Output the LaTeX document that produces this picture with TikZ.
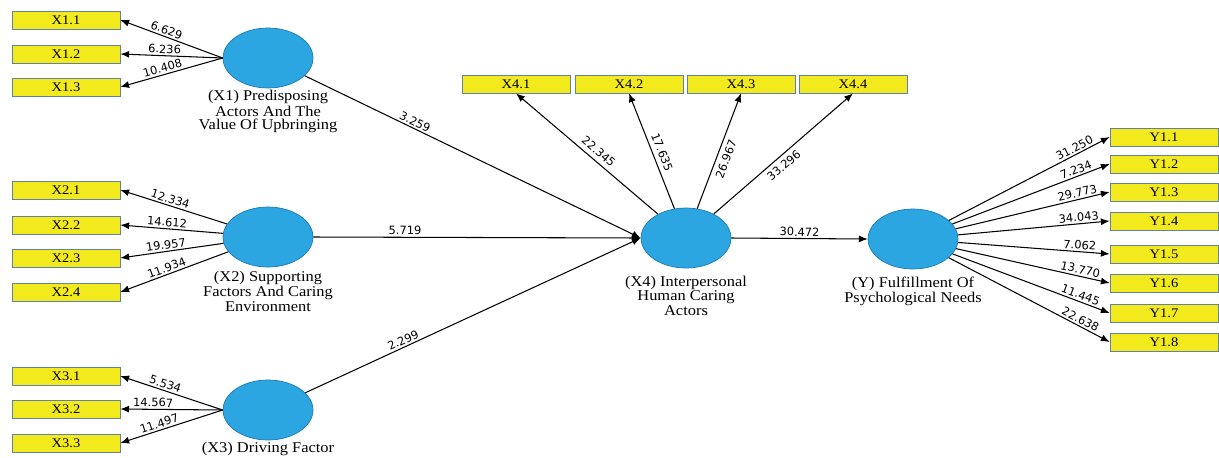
\documentclass[tikz,border=0pt]{standalone}
\usepackage{fontspec}
\setmainfont{Liberation Serif}
\newfontfamily\breitfont[FakeStretch=1.1]{Liberation Serif}
\newfontfamily\zahlfont{DejaVu Sans}
\usepackage{tikz}
\usetikzlibrary{shapes.geometric,arrows.meta}

\definecolor{kastengelb}{RGB}{242,234,28}
\definecolor{kastenrand}{RGB}{95,130,165}
\definecolor{kreisblau}{RGB}{43,166,224}
\definecolor{kreisrand}{RGB}{30,120,185}

\tikzset{
  indikator/.style={draw=kastenrand, fill=kastengelb, minimum width=2.16cm,
    minimum height=0.36cm, inner sep=0pt, font=\breitfont\fontsize{7.5}{8}\selectfont},
  latent/.style={ellipse, draw=kreisrand, fill=kreisblau, minimum width=1.8cm,
    minimum height=1.2cm},
  beschriftung/.style={align=center, font=\breitfont\fontsize{8.5}{7.4}\selectfont, inner sep=1pt},
  pfeil/.style={-{Latex[length=5pt,width=4pt]}, semithick},
  wert/.style={font=\zahlfont\fontsize{6.5}{7}\selectfont, inner sep=1pt, sloped}
}

\begin{document}
\begin{tikzpicture}[x=0.02cm, y=-0.02cm]
    \useasboundingbox (0,0) rectangle (1219,457);

    % Latente Variablen
    \node[latent, label={[beschriftung]below:{(X1) Predisposing\\Actors And The\\Value Of Upbringing}}] (X1) at (268,58) {};
    \node[latent, label={[beschriftung, label distance=1pt]below:{(X2) Supporting\\Factors And Caring\\Environment}}] (X2) at (268,237) {};
    \node[latent, label={[beschriftung]below:{(X3) Driving Factor}}] (X3) at (268,410) {};
    \node[latent, label={[beschriftung, label distance=3pt]below:{(X4) Interpersonal\\Human Caring\\Actors}}] (X4) at (686,238) {};
    \node[latent, label={[beschriftung, label distance=3pt]below:{(Y) Fulfillment Of\\Psychological Needs}}] (Y) at (913,239) {};

    % Indikatoren
    \foreach \i/\y in {1/20,2/54,3/87}
        \node[indikator] (X1\i) at (66,\y) {X1.\i};
    \foreach \i/\y in {1/190,2/225,3/258,4/292}
        \node[indikator] (X2\i) at (66,\y) {X2.\i};
    \foreach \i/\y in {1/376,2/409,3/443}
        \node[indikator] (X3\i) at (66,\y) {X3.\i};
    \foreach \i/\x in {1/516,2/629,3/741,4/853}
        \node[indikator] (X4\i) at (\x,84) {X4.\i};
    \foreach \i/\y in {1/137,2/164,3/192,4/221,5/254,6/283,7/313,8/342}
        \node[indikator] (Y1\i) at (1164,\y) {Y1.\i};

    % Ladungen
    \foreach \i/\w in {1/6.629,2/6.236,3/10.408}
        \draw[pfeil] (X1.west) -- node[wert, pos=0.57, above] {\w} (X1\i.east);
    \foreach \i/\w in {1/12.334,2/14.612,3/19.957,4/11.934}
        \draw[pfeil] (X2) -- node[wert, pos=0.55, above] {\w} (X2\i.east);
    \foreach \i/\w/\p in {1/5.534/0.58,2/14.567/0.68,3/11.497/0.6}
        \draw[pfeil] (X3.west) -- node[wert, pos=\p, above] {\w} (X3\i.east);
    \foreach \i/\w/\ank in {1/22.345/south,2/17.635/south,3/26.967/north,4/33.296/north}
        \draw[pfeil] (X4) -- node[wert, inner sep=2.5pt, pos=0.46, anchor=\ank] {\w} (X4\i.south);
    \foreach \i/\w in {1/31.250,2/7.234,3/29.773,4/34.043,5/7.062,6/13.770,7/11.445,8/22.638}
        \draw[pfeil] (Y) -- node[wert, pos=0.8, above] {\w} (Y1\i.west);

    % Pfadkoeffizienten
    \draw[pfeil] (X1) -- node[wert, pos=0.32, above] {3.259} (X4.west);
    \draw[pfeil] (X2.east) -- node[wert, pos=0.28, above] {5.719} (X4.west);
    \draw[pfeil] (X3) -- node[wert, pos=0.3, above] {2.299} (X4.west);
    \draw[pfeil] (X4.east) -- node[wert, pos=0.5, above] {30.472} (Y.west);
\end{tikzpicture}
\end{document}
